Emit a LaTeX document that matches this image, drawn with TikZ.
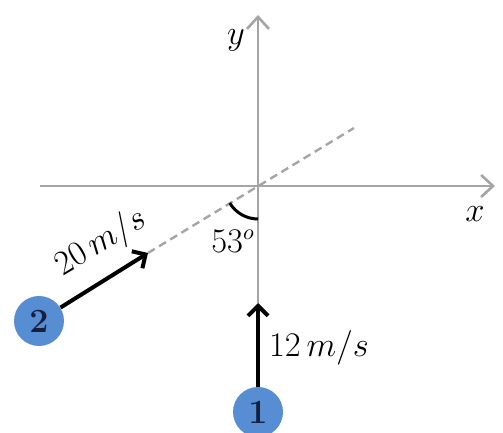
\documentclass[tikz,border=0pt]{standalone}
\usepackage{amsmath, amssymb}
\usepackage{xcolor}
\usepackage{tikz}
\usetikzlibrary{positioning, arrows.meta, calc}

\definecolor{ballblue}{RGB}{86,141,211}
\definecolor{ballnum}{RGB}{22,32,62}
\definecolor{axisgray}{RGB}{165,165,165}

\begin{document}
\begin{tikzpicture}[
    x=0.5pt, y=0.5pt,
    axis/.style={axisgray, line width=1.3pt, -{Straight Barb[length=6pt, width=11pt, line width=1.3pt]}},
    guide/.style={axisgray, line width=1.2pt, dash pattern=on 4pt off 2.5pt},
    vec/.style={black, line width=2pt, -{Straight Barb[length=5pt, width=10pt, line width=2pt]}},
    ball/.style={circle, fill=ballblue, minimum size=25pt, inner sep=0pt,
                 text=ballnum, font=\fontsize{17}{19}\selectfont\bfseries},
    lbl/.style={font=\fontsize{16}{18}\selectfont, inner sep=1pt},
    axlbl/.style={font=\fontsize{19}{22}\selectfont, inner sep=1pt}
  ]
  \useasboundingbox (0,0) rectangle (503,433);
  \coordinate (o)  at (258,247);
  \coordinate (xl) at (40,247);
  \coordinate (xr) at (495,247);
  \coordinate (yb) at (258,130);
  \coordinate (yt) at (258,418);
  \coordinate (dl) at (148,180);
  \coordinate (dr) at (354,305);
  % axes and direction of ball 2
  \draw[axis] (xl) -- (xr);
  \draw[axis] (yb) -- (yt);
  \draw[guide] (dl) -- (dr);
  \node[axlbl] (xlab) at (475,219) {$x$};
  \node[axlbl] (ylab) at (236,393) {$y$};
  % angle between the two paths
  \draw[black, line width=1.5pt] ($(o)+(211:33)$) arc[start angle=211, end angle=270, radius=33];
  \node[lbl] (ang) at (233,192) {$53^o$};
  % the two balls
  \node[ball] (one) at (258,21) {1};
  \node[ball] (two) at (39,112) {2};
  \draw[vec] (one) -- (yb);
  \draw[vec] (two) -- (dl);
  \node[lbl] (v1) at (319,85) {$12\,m/s$};
  \node[lbl, rotate=31] (v2) at (101,190) {$20\,m/s$};
\end{tikzpicture}
\end{document}
